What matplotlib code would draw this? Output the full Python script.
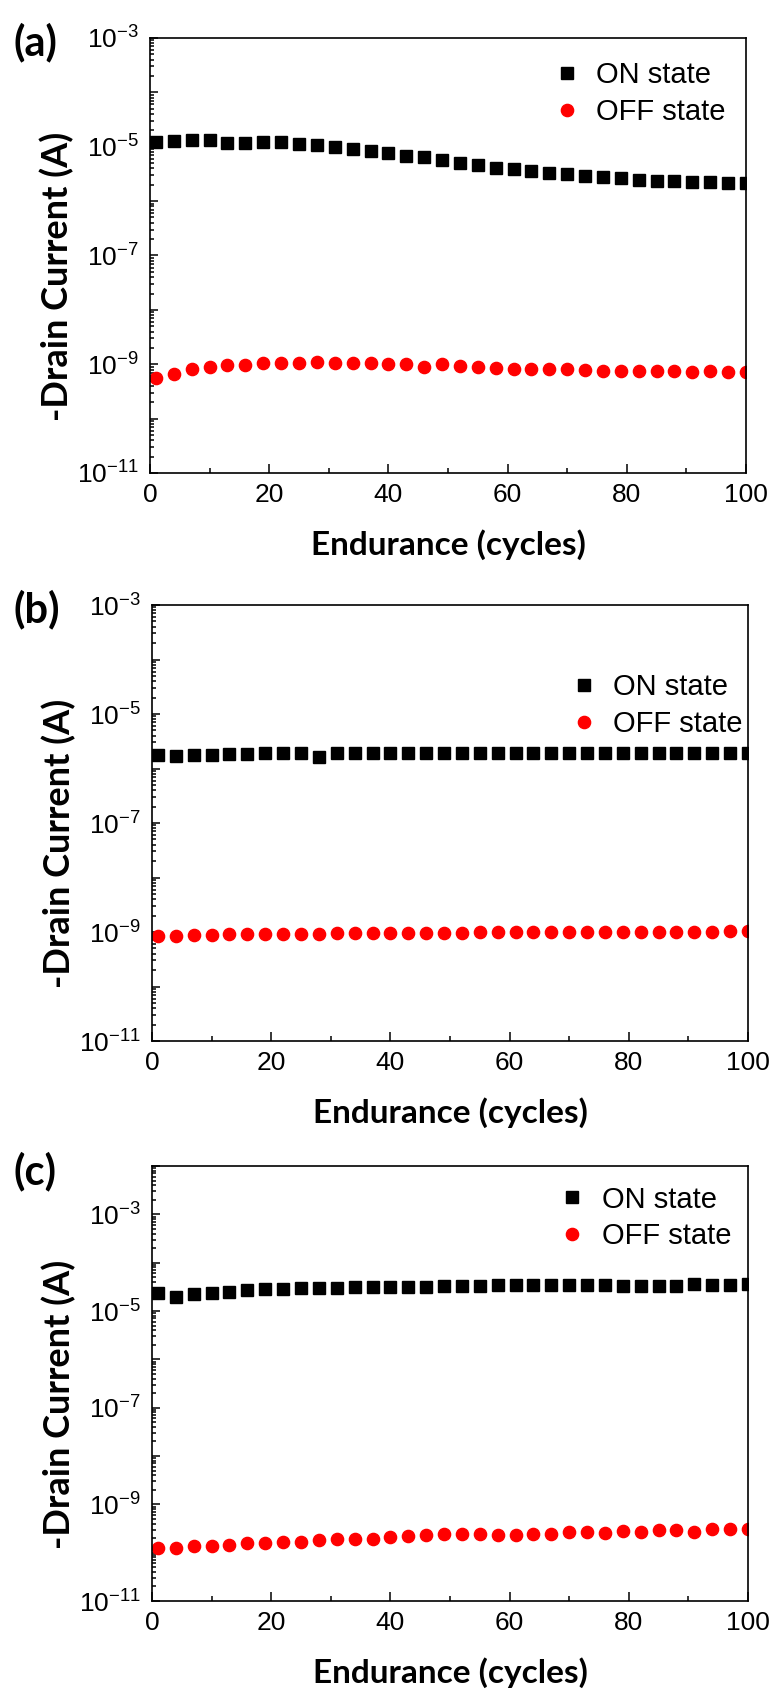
import matplotlib
matplotlib.use('Agg')
import matplotlib.pyplot as plt
from matplotlib.ticker import LogLocator, FuncFormatter, MultipleLocator, NullFormatter
import numpy as np

plt.rcParams['font.family'] = ['Liberation Sans', 'DejaVu Sans']
plt.rcParams['mathtext.fontset'] = 'custom'
plt.rcParams['mathtext.rm'] = 'Liberation Sans'
plt.rcParams['axes.linewidth'] = 1.2

# data
cycles = [1, 4, 7, 10, 13, 16, 19, 22, 25, 28, 31, 34, 37, 40, 43, 46, 49,
          52, 55, 58, 61, 64, 67, 70, 73, 76, 79, 82, 85, 88, 91, 94, 97, 100]

on_a = [1.24e-5, 1.25e-5, 1.33e-5, 1.33e-5, 1.19e-5, 1.19e-5, 1.20e-5, 1.20e-5, 1.11e-5, 1.08e-5,
        9.9e-6, 9.0e-6, 8.5e-6, 7.7e-6, 6.8e-6, 6.4e-6, 5.7e-6, 5.1e-6, 4.7e-6, 4.0e-6,
        3.85e-6, 3.6e-6, 3.35e-6, 3.15e-6, 2.9e-6, 2.75e-6, 2.62e-6, 2.45e-6, 2.38e-6, 2.34e-6,
        2.28e-6, 2.22e-6, 2.18e-6, 2.12e-6]
off_a = [5.5e-10, 6.6e-10, 8.1e-10, 8.8e-10, 9.7e-10, 9.7e-10, 1.04e-9, 1.04e-9, 1.04e-9, 1.1e-9,
         1.04e-9, 1.04e-9, 1.04e-9, 1.0e-9, 1.0e-9, 8.8e-10, 1.0e-9, 9.4e-10, 8.8e-10, 8.4e-10,
         8.2e-10, 8.1e-10, 8.1e-10, 8.1e-10, 7.8e-10, 7.5e-10, 7.5e-10, 7.6e-10, 7.6e-10, 7.6e-10,
         7.3e-10, 7.5e-10, 7.1e-10, 7.3e-10]

on_b = [1.77e-6, 1.70e-6, 1.77e-6, 1.77e-6, 1.85e-6, 1.85e-6, 1.90e-6, 1.95e-6, 1.95e-6, 1.60e-6,
        1.90e-6, 1.95e-6, 1.95e-6, 1.95e-6, 1.95e-6, 1.95e-6, 1.95e-6, 1.95e-6, 1.95e-6, 1.95e-6,
        1.95e-6, 1.95e-6, 1.95e-6, 1.95e-6, 1.95e-6, 1.95e-6, 1.95e-6, 1.95e-6, 1.95e-6, 1.95e-6,
        1.95e-6, 1.95e-6, 1.95e-6, 1.95e-6]
off_b = [8.5e-10, 8.6e-10, 8.7e-10, 8.9e-10, 9.0e-10, 9.1e-10, 9.2e-10, 9.2e-10, 9.3e-10, 9.3e-10,
         9.4e-10, 9.5e-10, 9.5e-10, 9.6e-10, 9.6e-10, 9.7e-10, 9.7e-10, 9.7e-10, 9.8e-10, 9.8e-10,
         9.9e-10, 9.9e-10, 9.9e-10, 1.0e-9, 1.0e-9, 1.0e-9, 1.0e-9, 1.01e-9, 1.01e-9, 1.02e-9,
         1.02e-9, 1.02e-9, 1.03e-9, 1.03e-9]

on_c = [2.32e-5, 1.98e-5, 2.25e-5, 2.4e-5, 2.51e-5, 2.72e-5, 2.81e-5, 2.9e-5, 2.95e-5, 2.95e-5,
        3.05e-5, 3.09e-5, 3.09e-5, 3.19e-5, 3.2e-5, 3.2e-5, 3.3e-5, 3.3e-5, 3.3e-5, 3.4e-5,
        3.4e-5, 3.4e-5, 3.4e-5, 3.4e-5, 3.4e-5, 3.4e-5, 3.3e-5, 3.3e-5, 3.3e-5, 3.3e-5,
        3.6e-5, 3.4e-5, 3.4e-5, 3.7e-5]
off_c = [1.23e-10, 1.27e-10, 1.37e-10, 1.40e-10, 1.44e-10, 1.56e-10, 1.56e-10, 1.64e-10, 1.69e-10, 1.83e-10,
         1.89e-10, 1.89e-10, 1.95e-10, 2.14e-10, 2.2e-10, 2.3e-10, 2.39e-10, 2.39e-10, 2.39e-10, 2.32e-10,
         2.32e-10, 2.39e-10, 2.39e-10, 2.63e-10, 2.72e-10, 2.51e-10, 2.81e-10, 2.72e-10, 2.94e-10, 2.94e-10,
         2.72e-10, 3.04e-10, 3.04e-10, 3.04e-10]

panels = ['(a)', '(b)', '(c)']
ons = [on_a, on_b, on_c]
offs = [off_a, off_b, off_c]
ytops = [1e-3, 1e-3, 1e-2]

# axes boxes in pixels: left, top, right, bottom
boxes = [(150, 38, 746, 473), (152, 605, 748, 1041), (152, 1166, 748, 1601)]
legend_pos = [(0.675, 0.947), (0.70, 0.844), (0.681, 0.955)]
label_y = [42, 609, 1171]

W, H = 776, 1692
fig = plt.figure(figsize=(W / 100, H / 100), dpi=100)


def ylab(v, pos):
    e = int(round(np.log10(v)))
    if e % 2 == 0:
        return ''
    return r'$\mathregular{10^{%d}}$' % e


for i in range(3):
    l, t, r, b = boxes[i]
    ax = fig.add_axes([l / W, 1 - b / H, (r - l) / W, (b - t) / H])
    ax.plot(cycles, ons[i], 's', color='black', markersize=8.5, label='ON state')
    ax.plot(cycles, offs[i], 'o', color='red', markersize=8.8, label='OFF state')
    ax.set_yscale('log')
    ax.set_xlim(0, 100)
    ax.set_ylim(1e-11, ytops[i])

    ax.yaxis.set_major_locator(LogLocator(base=10, numticks=20))
    ax.yaxis.set_minor_locator(LogLocator(base=10, subs=np.arange(2, 10), numticks=20))
    ax.yaxis.set_major_formatter(FuncFormatter(ylab))
    ax.yaxis.set_minor_formatter(NullFormatter())
    ax.xaxis.set_major_locator(MultipleLocator(20))
    ax.xaxis.set_minor_locator(MultipleLocator(10))

    ax.tick_params(which='both', direction='in', top=False, right=False, width=1.1, labelsize=19)
    ax.tick_params(axis='y', which='major', length=6, pad=8)
    ax.tick_params(axis='y', which='minor', length=3)
    ax.tick_params(axis='x', which='major', length=6.5, pad=7)
    ax.tick_params(axis='x', which='minor', length=3.5)

    ax.set_xlabel('Endurance (cycles)', family='Lato', fontweight='bold', fontsize=24, va='center')
    ax.xaxis.set_label_coords(0.5, -0.165)
    ax.set_ylabel('-Drain Current (A)', family='Lato', fontweight='bold', fontsize=26, va='center')
    ax.yaxis.set_label_coords(-0.156, 0.453)

    ax.legend(loc='upper left', bbox_to_anchor=legend_pos[i], frameon=False,
              fontsize=21, handlelength=1.0, handletextpad=0.5, borderpad=0,
              borderaxespad=0, labelspacing=0.3)

    fig.text(14 / W, 1 - label_y[i] / H, panels[i], family='Lato', fontweight='bold',
             fontsize=30, va='center', ha='left')

fig.savefig('out.png', dpi=100)
